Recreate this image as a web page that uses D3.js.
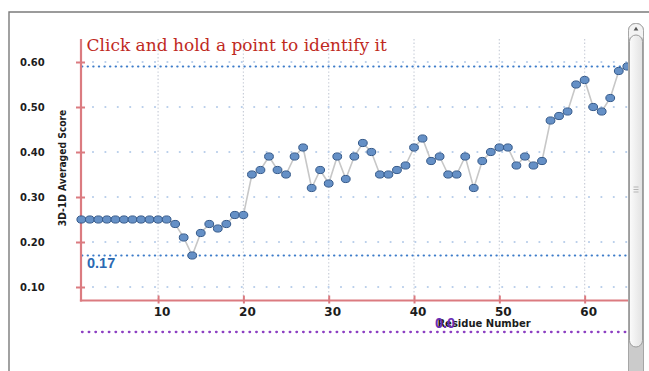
<!DOCTYPE html>
<html>
<head>
<meta charset="utf-8">
<script src="https://cdn.jsdelivr.net/npm/d3@7"></script>
<style>
  html, body { margin: 0; padding: 0; background: #fff; overflow: hidden; }
  svg { display: block; }
</style>
</head>
<body>
<svg id="chart" width="649" height="371"></svg>
<script>
// Residue numbers and their 3D-1D averaged scores
const residues = [1,2,3,4,5,6,7,8,9,10,11,12,13,14,15,16,17,18,19,20,
  21,22,23,24,25,26,27,28,29,30,31,32,33,34,35,36,37,38,39,40,
  41,42,43,44,45,46,47,48,49,50,51,52,53,54,55,56,57,58,59,60,
  61,62,63,64,65];
const scores = [0.25,0.25,0.25,0.25,0.25,0.25,0.25,0.25,0.25,0.25,
  0.25,0.24,0.21,0.17,0.22,0.24,0.23,0.24,0.26,0.26,
  0.35,0.36,0.39,0.36,0.35,0.39,0.41,0.32,0.36,0.33,
  0.39,0.34,0.39,0.42,0.40,0.35,0.35,0.36,0.37,0.41,
  0.43,0.38,0.39,0.35,0.35,0.39,0.32,0.38,0.40,0.41,
  0.41,0.37,0.39,0.37,0.38,0.47,0.48,0.49,0.55,0.56,
  0.50,0.49,0.52,0.58,0.59];
const yTickValues = [0.1, 0.2, 0.3, 0.4, 0.5, 0.6];
const xTickValues = [10, 20, 30, 40, 50, 60];
// max / min guide lines, and the zero baseline
const boundValues = [0.59, 0.17];
const boundLabels = ["", "0.17"];
const baselineValue = 0.0;
const baselineLabel = "0.0";

const svg = d3.select("#chart");
const axisColor = "#db7b80";
const plotLeft = 81, plotRight = 628, plotTop = 39;

const x = d3.scaleLinear().domain([1, 65]).range([81.3, 627.3]);
const y = d3.scaleLinear().domain([0.07, 0.65]).range([300.5, 39.5]);
const plotBottom = y(0.07);

// outer panel border
svg.append("path")
  .attr("d", "M9,371V12H649")
  .attr("fill", "none").attr("stroke", "#7b7b7b").attr("stroke-width", 1.4);

// vertical grid
svg.append("g").selectAll("line").data(xTickValues).join("line")
  .attr("x1", d => x(d)).attr("x2", d => x(d))
  .attr("y1", plotTop).attr("y2", plotBottom)
  .attr("stroke", "#c9ced8").attr("stroke-width", 1.2)
  .attr("stroke-dasharray", "1.4,2.2");

// horizontal grid
svg.append("g").selectAll("line").data(yTickValues).join("line")
  .attr("x1", plotLeft + 12).attr("x2", plotRight + 20)
  .attr("y1", d => y(d)).attr("y2", d => y(d))
  .attr("stroke", "#b7cdea").attr("stroke-width", 2.2)
  .attr("stroke-linecap", "round")
  .attr("stroke-dasharray", "0,12.4");

// max / min guide lines
svg.append("g").selectAll("line").data(boundValues).join("line")
  .attr("x1", plotLeft + 1).attr("x2", plotRight + 20)
  .attr("y1", d => y(d)).attr("y2", d => y(d))
  .attr("stroke", "#3d7cc9").attr("stroke-width", 2)
  .attr("stroke-linecap", "round")
  .attr("stroke-dasharray", "0.4,5.2");

// zero baseline
svg.append("line")
  .attr("x1", plotLeft + 1).attr("x2", plotRight + 20)
  .attr("y1", y(baselineValue)).attr("y2", y(baselineValue))
  .attr("stroke", "#8c3fc2").attr("stroke-width", 2.3)
  .attr("stroke-linecap", "round")
  .attr("stroke-dasharray", "0.6,6.1");

// axes
const xAxis = d3.axisBottom(x).tickValues(xTickValues).tickFormat(d3.format("d")).tickSizeOuter(0);
const gx = svg.append("g").attr("transform", `translate(0,${plotBottom})`).call(xAxis);
gx.select(".domain").remove();
gx.selectAll(".tick line").attr("y1", -5).attr("y2", 3)
  .attr("stroke", axisColor).attr("stroke-width", 2);
gx.selectAll(".tick text").attr("y", 6.5).attr("dx", 3.5)
  .attr("font-family", "DejaVu Sans").attr("font-weight", "bold")
  .attr("font-size", 12).attr("fill", "#1c1c1c");

const yAxis = d3.axisLeft(y).tickValues(yTickValues).tickFormat(d3.format(".2f")).tickSizeOuter(0);
const gy = svg.append("g").attr("transform", `translate(${plotLeft},0)`).call(yAxis);
gy.select(".domain").remove();
gy.selectAll(".tick line").attr("x1", -5).attr("x2", 4)
  .attr("stroke", axisColor).attr("stroke-width", 2);
gy.selectAll(".tick text").attr("x", -61).attr("text-anchor", "start")
  .attr("font-family", "DejaVu Sans").attr("font-weight", "bold")
  .attr("font-size", 10).attr("fill", "#1c1c1c");

svg.append("line")
  .attr("x1", plotLeft).attr("x2", plotLeft)
  .attr("y1", plotTop).attr("y2", plotBottom + 1)
  .attr("stroke", axisColor).attr("stroke-width", 2.2);
svg.append("line")
  .attr("x1", plotLeft - 1.1).attr("x2", 649)
  .attr("y1", plotBottom).attr("y2", plotBottom)
  .attr("stroke", axisColor).attr("stroke-width", 2.2);

// connecting line
const pts = residues.map((r, i) => ({ r, s: scores[i] }));
svg.append("path").datum(pts)
  .attr("d", d3.line().x(d => x(d.r)).y(d => y(d.s)))
  .attr("fill", "none").attr("stroke", "#c7c7c7").attr("stroke-width", 1.6);

// points
svg.append("g").selectAll("ellipse").data(pts).join("ellipse")
  .attr("cx", d => x(d.r)).attr("cy", d => y(d.s))
  .attr("rx", 4.4).attr("ry", 3.6)
  .attr("fill", "#6590c6").attr("stroke", "#34598a").attr("stroke-width", 1);

// title
svg.append("text")
  .attr("x", 86.5).attr("y", 51)
  .attr("font-family", "DejaVu Serif").attr("font-size", 17)
  .attr("fill", "#bf2a1e")
  .text("Click and hold a point to identify it");

// axis titles
svg.append("text")
  .attr("transform", "translate(66,168) rotate(-90)")
  .attr("text-anchor", "middle")
  .attr("font-family", "'Liberation Sans Narrow', 'DejaVu Sans Condensed', sans-serif")
  .attr("font-weight", "bold").attr("font-size", 10.2).attr("fill", "#1c1c1c")
  .text("3D-1D Averaged Score");
svg.append("text")
  .attr("x", 484).attr("y", 326.5).attr("text-anchor", "middle")
  .attr("font-family", "DejaVu Sans").attr("font-weight", "bold")
  .attr("font-size", 10).attr("fill", "#1c1c1c")
  .text("Residue Number");

// guide labels
svg.append("g").selectAll("text").data(boundValues.map((v, i) => ({ v, t: boundLabels[i] })).filter(d => d.t))
  .join("text")
  .attr("x", 87).attr("y", d => y(d.v) + 12.5)
  .attr("font-family", "Liberation Sans").attr("font-weight", "bold")
  .attr("font-size", 14.5).attr("fill", "#2b69b2")
  .text(d => d.t);
svg.append("text")
  .attr("x", 435).attr("y", y(baselineValue) - 4)
  .attr("font-family", "Liberation Sans").attr("font-weight", "bold")
  .attr("font-size", 14.5).attr("fill", "#6a2db5")
  .text(baselineLabel);

// scrollbar
const defs = svg.append("defs");
const grad = defs.append("linearGradient").attr("id", "thumbFill").attr("x1", 0).attr("x2", 1);
grad.append("stop").attr("offset", 0).attr("stop-color", "#fbfbfb");
grad.append("stop").attr("offset", 1).attr("stop-color", "#e2e2e2");

svg.append("rect").attr("x", 644).attr("y", 13).attr("width", 5).attr("height", 358).attr("fill", "#fff");
svg.append("rect")
  .attr("x", 628.5).attr("y", 23.5).attr("width", 15).attr("height", 360).attr("rx", 7)
  .attr("fill", "#cbcbcb").attr("stroke", "#a6a6a6");
svg.append("rect")
  .attr("x", 628.5).attr("y", 23.5).attr("width", 15).attr("height", 20).attr("rx", 7)
  .attr("fill", "#f3f3f3").attr("stroke", "#a6a6a6");
svg.append("path").attr("d", "M636,26.8L633.6,30.6H638.4Z").attr("fill", "#555");
svg.append("rect")
  .attr("x", 629.5).attr("y", 35).attr("width", 13).attr("height", 312).attr("rx", 6.5)
  .attr("fill", "url(#thumbFill)").attr("stroke", "#9c9c9c");
svg.append("g").selectAll("line").data([187, 189.5, 192]).join("line")
  .attr("x1", 633.5).attr("x2", 638.5).attr("y1", d => d).attr("y2", d => d)
  .attr("stroke", "#b5b5b5").attr("stroke-width", 1);
</script>
</body>
</html>
